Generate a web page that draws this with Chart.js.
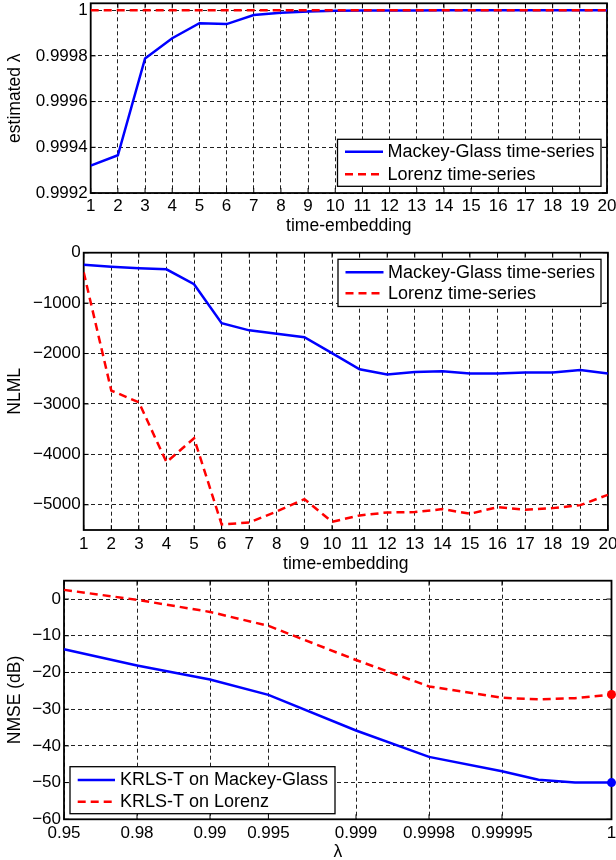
<!DOCTYPE html>
<html>
<head>
<meta charset="utf-8">
<script src="https://cdn.jsdelivr.net/npm/chart.js@4.4.0/dist/chart.umd.min.js"></script>
<style>
html,body{margin:0;padding:0;background:#fff;overflow:hidden;width:616px;height:860px;}
canvas{position:absolute;left:0;}
</style>
</head>
<body>
<canvas id="lambdaChart" width="616" height="250" style="top:0px"></canvas>
<canvas id="nlmlChart" width="616" height="340" style="top:240px"></canvas>
<canvas id="nmseChart" width="616" height="300" style="top:570px"></canvas>
<script>
// top panel: estimated lambda vs time-embedding
const embedding = [1,2,3,4,5,6,7,8,9,10,11,12,13,14,15,16,17,18,19,20];
const mgLambda = [0.99932,0.999365,0.999789,0.999877,0.999943,0.999939,0.999979,0.999989,0.999994,0.999997,0.999998,0.999999,0.999999,1,1,1,1,1,1,1];
const lorenzLambda = [1,1,1,1,1,1,1,1,1,1,1,1,1,1,1,1,1,1,1,1];
const lambdaTicks = [0.9992,0.9994,0.9996,0.9998,1];
const lambdaTickLabels = ["0.9992","0.9994","0.9996","0.9998","1"];

// middle panel: NLML vs time-embedding
const mgNLML = [-240,-277,-306,-330,-626,-1398,-1540,-1606,-1675,-1992,-2312,-2417,-2365,-2351,-2398,-2398,-2378,-2378,-2325,-2398];
const lorenzNLML = [-390,-2735,-2968,-4155,-3679,-5390,-5350,-5132,-4888,-5337,-5211,-5152,-5145,-5086,-5178,-5046,-5099,-5066,-5007,-4802];
const nlmlTicks = [0,-1000,-2000,-3000,-4000,-5000];

// bottom panel: NMSE vs lambda (lambda axis is not linear)
const lambdaPos = [0,1,2,2.8,4,5,6,6.5,7,7.5];
const mgNMSE = [-13.7,-18.1,-21.9,-26.1,-35.8,-43.0,-46.9,-49.2,-50.0,-50.0];
const lorenzNMSE = [2.5,-0.2,-3.5,-7.3,-16.6,-23.8,-26.9,-27.3,-27.0,-26.0];
const lambdaGridPos = [0,1,2,2.8,4,5,6,7.5];
const lambdaGridLabels = ["0.95","0.98","0.99","0.995","0.999","0.9998","0.99995","1"];
const nmseTicks = [0,-10,-20,-30,-40,-50,-60];

Chart.defaults.font.family = "'Liberation Sans', Arial, Helvetica, sans-serif";
Chart.defaults.font.size = 17;
Chart.defaults.color = "#000";
Chart.defaults.animation = false;

function minusLabel(v){ return v < 0 ? "\u2212" + Math.abs(v) : String(v); }
function pts(xs, ys){ return xs.map((x,i) => ({x:x, y:ys[i]})); }

function xAxis(o){
  return {
    type:"linear", min:o.min, max:o.max,
    afterBuildTicks: s => { s.ticks = o.ticks.map(v => ({value:v})); },
    afterFit: s => { s.height = o.height; s.paddingLeft = 0; s.paddingRight = 0; },
    ticks:{autoSkip:false, maxRotation:0, padding:o.pad, callback:(v,i) => o.labels ? o.labels[i] : minusLabel(v)},
    grid:{color:"#222", lineWidth:1, drawTicks:false},
    border:{display:false, dash:[4,3]},
    title:{display:true, text:o.title, padding:0, font:{size:17.5}}
  };
}
function yAxis(o){
  return {
    type:"linear", min:o.min, max:o.max,
    afterBuildTicks: s => { s.ticks = o.ticks.map(v => ({value:v})); },
    afterFit: s => { s.width = o.width; s.paddingTop = 0; s.paddingBottom = 0; },
    ticks:{autoSkip:false, padding:3, callback:(v,i) => o.labels ? o.labels[i] : minusLabel(v)},
    grid:{color:"#222", lineWidth:1, drawTicks:false},
    border:{display:false, dash:[4,3]},
    title:{display:true, text:o.title, padding:{top:5}, font:{size:17.5}}
  };
}

// solid box with inward tick marks, drawn under the data lines
const axesBox = {
  id:"axesBox",
  beforeDatasetsDraw(chart){
    const {ctx, chartArea:a, scales} = chart;
    ctx.save();
    ctx.strokeStyle = "#000";
    ctx.lineWidth = 1;
    ctx.beginPath();
    scales.x.ticks.forEach(t => {
      const px = scales.x.getPixelForValue(t.value);
      ctx.moveTo(px, a.bottom); ctx.lineTo(px, a.bottom - 5);
      ctx.moveTo(px, a.top); ctx.lineTo(px, a.top + 5);
    });
    scales.y.ticks.forEach(t => {
      const py = scales.y.getPixelForValue(t.value);
      ctx.moveTo(a.left, py); ctx.lineTo(a.left + 5, py);
      ctx.moveTo(a.right, py); ctx.lineTo(a.right - 5, py);
    });
    ctx.stroke();
    ctx.lineWidth = 1.8;
    ctx.strokeRect(a.left, a.top, a.width, a.height);
    ctx.restore();
  }
};

const legendBox = {
  id:"legendBox",
  afterDraw(chart, args, o){
    const ctx = chart.ctx;
    ctx.save();
    ctx.fillStyle = "#fff";
    ctx.fillRect(o.x, o.y, o.w, o.h);
    ctx.strokeStyle = "#000";
    ctx.lineWidth = 1.3;
    ctx.strokeRect(o.x, o.y, o.w, o.h);
    ctx.font = "18px 'Liberation Sans', Arial, sans-serif";
    ctx.textBaseline = "middle";
    chart.data.datasets.forEach((ds,i) => {
      const y = o.y + o.rowTop + i*o.rowGap;
      ctx.beginPath();
      ctx.setLineDash(ds.borderDash || []);
      ctx.strokeStyle = ds.borderColor;
      ctx.lineWidth = ds.borderWidth;
      ctx.moveTo(o.x + o.lineStart, y);
      ctx.lineTo(o.x + o.lineStart + o.lineLen, y);
      ctx.stroke();
      ctx.setLineDash([]);
      ctx.fillStyle = "#000";
      ctx.fillText(ds.label, o.x + o.textStart, y + 0.5);
    });
    ctx.restore();
  }
};

function line(label, color, data, dash, extra){
  return Object.assign({
    label:label, data:data, borderColor:color, backgroundColor:color,
    pointBackgroundColor:color, pointBorderColor:color,
    borderWidth:2.5, borderDash:dash, pointRadius:0, tension:0, fill:false
  }, extra || {});
}

new Chart(document.getElementById("lambdaChart"),{
  type:"line",
  data:{datasets:[
    line("Mackey-Glass time-series", "#0000ff", pts(embedding, mgLambda), [], {order:1}),
    line("Lorenz time-series", "#ff0000", pts(embedding, lorenzLambda), [8,5], {order:0})
  ]},
  plugins:[axesBox, legendBox],
  options:{
    responsive:false, events:[],
    layout:{padding:{left:0, right:9, top:3.3, bottom:13}},
    scales:{
      x:xAxis({min:1, max:20, ticks:embedding, height:44, pad:2.8, title:"time-embedding"}),
      y:yAxis({min:0.9992, max:1.00003, ticks:lambdaTicks, labels:lambdaTickLabels, width:90.7, title:"estimated \u03bb"})
    },
    plugins:{
      legend:{display:false}, tooltip:{enabled:false},
      legendBox:{x:337.5, y:139.3, w:263.5, h:47, rowTop:12.4, rowGap:22.6, lineStart:7.5, lineLen:38, textStart:50}
    }
  }
});

new Chart(document.getElementById("nlmlChart"),{
  type:"line",
  data:{datasets:[
    line("Mackey-Glass time-series", "#0000ff", pts(embedding, mgNLML), [], {order:1}),
    line("Lorenz time-series", "#ff0000", pts(embedding, lorenzNLML), [8,5], {order:0})
  ]},
  plugins:[axesBox, legendBox],
  options:{
    responsive:false, events:[],
    layout:{padding:{left:0, right:8.1, top:12.7, bottom:5.5}},
    scales:{
      x:xAxis({min:1, max:20, ticks:embedding, height:44.5, pad:4.3, title:"time-embedding"}),
      y:yAxis({min:-5500, max:0, ticks:nlmlTicks, width:83.7, title:"NLML"})
    },
    plugins:{
      legend:{display:false}, tooltip:{enabled:false},
      legendBox:{x:338, y:19.3, w:263, h:47.2, rowTop:13, rowGap:21, lineStart:7.5, lineLen:38, textStart:50}
    }
  }
});

new Chart(document.getElementById("nmseChart"),{
  type:"line",
  data:{datasets:[
    line("KRLS-T on Mackey-Glass", "#0000ff", pts(lambdaPos, mgNMSE), [], {order:1, clip:false,
      pointRadius:mgNMSE.map((v,i) => i === mgNMSE.length-1 ? 4.5 : 0), pointBorderWidth:0}),
    line("KRLS-T on Lorenz", "#ff0000", pts(lambdaPos, lorenzNMSE), [8,5], {order:0, clip:false,
      pointRadius:lorenzNMSE.map((v,i) => i === lorenzNMSE.length-1 ? 4.5 : 0), pointBorderWidth:0})
  ]},
  plugins:[axesBox, legendBox],
  options:{
    responsive:false, events:[],
    layout:{padding:{left:0, right:3.8, top:10.7, bottom:7.5}},
    scales:{
      x:xAxis({min:0, max:7.5, ticks:lambdaGridPos, labels:lambdaGridLabels, height:43.2, pad:3.8, title:"\u03bb"}),
      y:yAxis({min:-60, max:5, ticks:nmseTicks, width:64, title:"NMSE (dB)"})
    },
    plugins:{
      legend:{display:false}, tooltip:{enabled:false},
      legendBox:{x:70, y:196.7, w:265, h:47, rowTop:13.3, rowGap:21.7, lineStart:7.7, lineLen:37.3, textStart:50}
    }
  }
});
</script>
</body>
</html>
